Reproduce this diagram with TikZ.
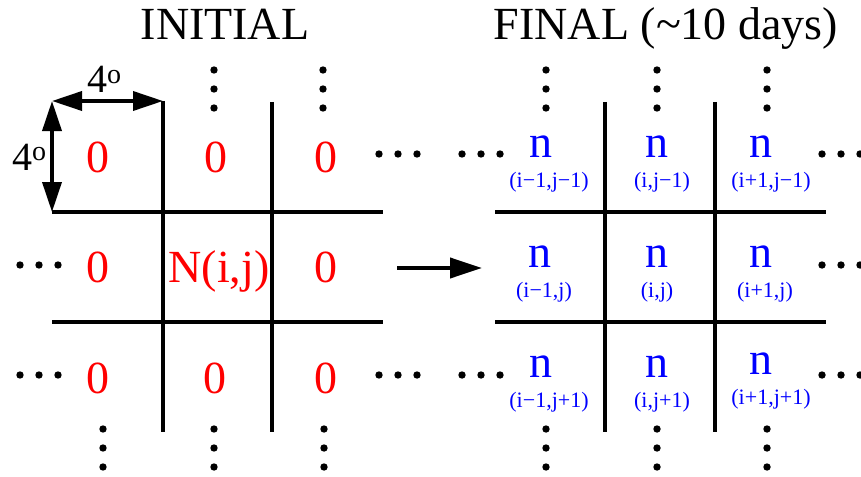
\documentclass[tikz,border=0pt]{standalone}
\usepackage{fontspec}
\setmainfont{Liberation Serif}
\newfontfamily\tms{Liberation Serif}
\usetikzlibrary{arrows.meta}

\begin{document}
\begin{tikzpicture}[
  x=1pt, y=-1pt,
  cellline/.style={line width=3.6pt},
  heading/.style={font=\tms\fontsize{46}{50}\selectfont, anchor=base, inner sep=0pt},
  zero/.style={font=\tms\fontsize{46}{50}\selectfont, text=red, anchor=base, inner sep=0pt},
  dens/.style={font=\tms\fontsize{46}{50}\selectfont, text=blue, anchor=base, inner sep=0pt},
  idx/.style={font=\tms\fontsize{22}{24}\selectfont, text=blue, anchor=base, inner sep=0pt},
  deg/.style={font=\tms\fontsize{40}{44}\selectfont, anchor=base west, inner sep=0pt},
  sizearr/.style={{Triangle[length=30pt,width=19pt]}-{Triangle[length=30pt,width=19pt]}, line width=3.6pt},
  arr/.style={-{Triangle[length=32pt,width=20pt]}, line width=4pt}
]
\useasboundingbox (0,0) rectangle (861,476);

% Headings
\node[heading] (tinit) at (225,40) {INITIAL};
\node[heading] (tfin) at (666,40) {FINAL (\textasciitilde10 days)};

% Initial grid
\draw[cellline] (52,212) -- (383,212);
\draw[cellline] (52,322) -- (383,322);
\draw[cellline] (163,101) -- (163,432);
\draw[cellline] (272,102) -- (272,432);

% Cell size
\coordinate (corner) at (52,101);
\coordinate (cright) at (163,101);
\coordinate (cdown) at (52,212);
\draw[sizearr] (corner) -- (cright);
\draw[sizearr] (corner) -- (cdown);
\node[deg] (dtop) at (87,93) {4\textsuperscript{o}};
\node[deg] (dleft) at (12,170) {4\textsuperscript{o}};

% Initial values
\foreach \nm/\x/\y in {a/98/172, b/216/172, c/326/172, d/98/282, f/326/282, g/98/393, h/215/393, k/326/393}
  \node[zero] (z\nm) at (\x,\y) {0};
\node[zero] (zmid) at (219,282) {N(i,j)};

% Arrow
\coordinate (arrS) at (397,268);
\coordinate (arrE) at (482,268);
\draw[arr] (arrS) -- (arrE);

% Final grid
\draw[cellline] (495,212) -- (826,212);
\draw[cellline] (495,322) -- (826,322);
\draw[cellline] (605,102) -- (605,432);
\draw[cellline] (715,102) -- (715,432);

% Final values
\foreach \nm/\x/\y/\s/\lab in {
    a/541/157/549/{(i−1,j−1)}, b/657/157/662/{(i,j−1)}, c/761/157/771/{(i+1,j−1)},
    d/540/267/544/{(i−1,j)}, e/657/267/657/{(i,j)}, f/761/267/765/{(i+1,j)},
    g/541/377/549/{(i−1,j+1)}, h/657/377/662/{(i,j+1)}, k/761/374/771/{(i+1,j+1)}} {
  \node[dens] (n\nm) at (\x,\y) {n};
  \node[idx] (s\nm) at (\s,\y+30) {\lab};
}

% Continuation dots
\foreach \x/\y in {214/70, 323/70, 546/70, 657/70, 767/70, 103/429, 214/429, 324/429, 546/429, 657/429, 767/429}
  \foreach \k in {0,1,2} \fill (\x,\y+19*\k) circle (3.7);
\foreach \x/\y in {20/265, 20/375, 379/154, 379/375, 462/154, 462/375, 822/154, 822/265, 822/375}
  \foreach \k in {0,1,2} \fill (\x+19*\k,\y) circle (3.7);

\end{tikzpicture}
\end{document}
